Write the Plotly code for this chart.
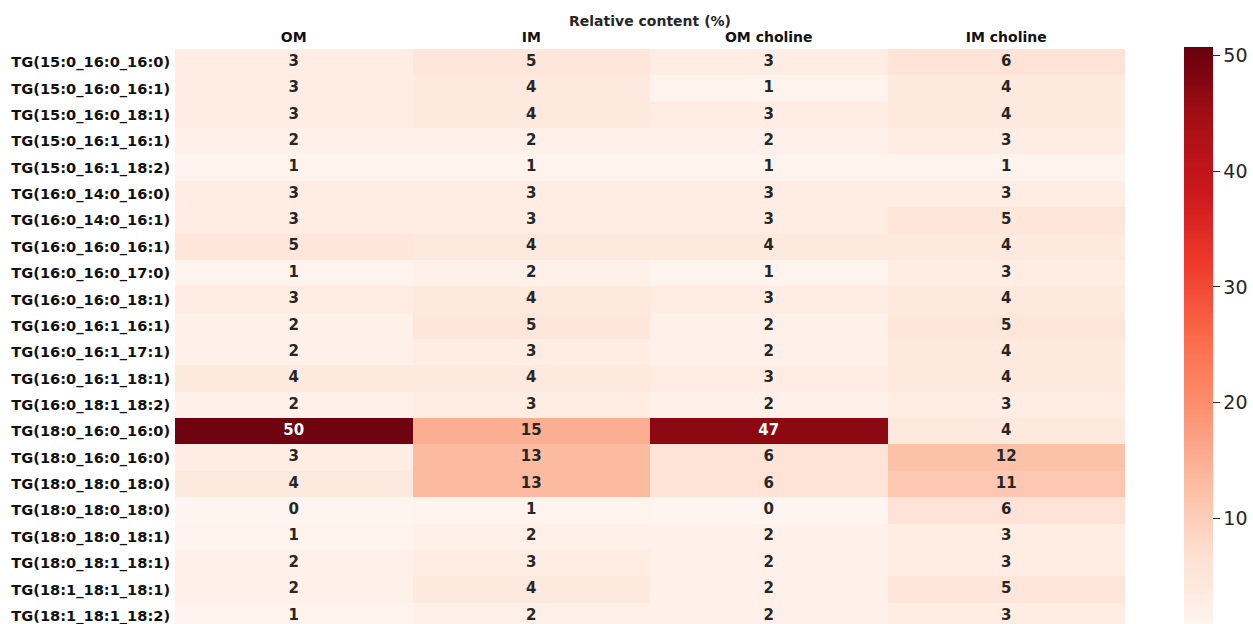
import plotly.graph_objects as go

# Triglyceride species (rows) and sample groups (columns)
species = [
    "TG(15:0_16:0_16:0)", "TG(15:0_16:0_16:1)", "TG(15:0_16:0_18:1)", "TG(15:0_16:1_16:1)",
    "TG(15:0_16:1_18:2)", "TG(16:0_14:0_16:0)", "TG(16:0_14:0_16:1)", "TG(16:0_16:0_16:1)",
    "TG(16:0_16:0_17:0)", "TG(16:0_16:0_18:1)", "TG(16:0_16:1_16:1)", "TG(16:0_16:1_17:1)",
    "TG(16:0_16:1_18:1)", "TG(16:0_18:1_18:2)", "TG(18:0_16:0_16:0)", "TG(18:0_16:0_16:0)",
    "TG(18:0_18:0_18:0)", "TG(18:0_18:0_18:0)", "TG(18:0_18:0_18:1)", "TG(18:0_18:1_18:1)",
    "TG(18:1_18:1_18:1)", "TG(18:1_18:1_18:2)",
]
groups = ["OM", "IM", "OM choline", "IM choline"]

# Relative content (%) per group
om = [3, 3, 3, 2, 1, 3, 3, 5, 1, 3, 2, 2, 4, 2, 50, 3, 4, 0, 1, 2, 2, 1]
im = [5, 4, 4, 2, 1, 3, 3, 4, 2, 4, 5, 3, 4, 3, 15, 13, 13, 1, 2, 3, 4, 2]
om_choline = [3, 1, 3, 2, 1, 3, 3, 4, 1, 3, 2, 2, 3, 2, 47, 6, 6, 0, 2, 2, 2, 2]
im_choline = [6, 4, 4, 3, 1, 3, 5, 4, 3, 4, 5, 4, 4, 3, 4, 12, 11, 6, 3, 3, 5, 3]

colorbar_ticks = [10, 20, 30, 40, 50]

columns = [om, im, om_choline, im_choline]
n_rows = len(species)
z = [[col[i] for col in columns] for i in range(n_rows)]
row_pos = list(range(n_rows))
col_pos = list(range(len(groups)))

reds = ['rgb(255,245,240)', 'rgb(254,224,210)', 'rgb(252,187,161)', 'rgb(252,146,114)',
        'rgb(251,106,74)', 'rgb(239,59,44)', 'rgb(203,24,29)', 'rgb(165,15,21)', 'rgb(103,0,13)']
scale = [[i / (len(reds) - 1), c] for i, c in enumerate(reds)]
zmin, zmax = 0.5, 50.7

fig = go.Figure()
fig.add_trace(go.Heatmap(
    z=z, x=col_pos, y=row_pos,
    colorscale=scale, zmin=zmin, zmax=zmax,
    hoverinfo="skip",
    colorbar=dict(
        thickness=29, thicknessmode="pixels",
        len=581, lenmode="pixels",
        x=1.062, xanchor="left", xpad=0,
        y=1.003, yanchor="top", ypad=0,
        outlinewidth=0,
        tickvals=colorbar_ticks,
        ticks="outside", ticklen=7, tickwidth=1.3, tickcolor="#262626",
        tickfont=dict(family="DejaVu Sans", size=19, color="#262626"),
    ),
))

# cell value labels, white on dark cells
tx, ty, tt, tc = [], [], [], []
for i in range(n_rows):
    for j in range(len(groups)):
        v = z[i][j]
        tx.append(j)
        ty.append(i)
        tt.append(str(v))
        tc.append("white" if (v - zmin) / (zmax - zmin) > 0.6 else "#262626")
fig.add_trace(go.Scatter(
    x=tx, y=ty, text=tt, mode="text",
    textfont=dict(family="DejaVu Sans", size=15, color=tc, weight="bold"),
    hoverinfo="skip", showlegend=False, cliponaxis=False,
))

fig.update_layout(
    width=1253, height=624,
    margin=dict(l=175, r=128, t=49, b=0),
    paper_bgcolor="white", plot_bgcolor="white",
    showlegend=False,
    title=dict(
        text="Relative content (%)", x=0.5, xref="paper", xanchor="center",
        y=1 - 21 / 624, yanchor="middle",
        font=dict(family="DejaVu Sans", size=14, color="#262626", weight="bold"),
    ),
    xaxis=dict(
        side="top", tickvals=col_pos, ticktext=groups,
        range=[-0.5, len(groups) - 0.5],
        showgrid=False, zeroline=False, showline=False,
        ticks="outside", ticklen=0, ticklabelstandoff=0,
        tickfont=dict(family="DejaVu Sans", size=14, color="#111111", weight="bold"),
    ),
    yaxis=dict(
        tickvals=row_pos, ticktext=species,
        range=[21.31, -0.5],
        showgrid=False, zeroline=False, showline=False,
        ticks="outside", ticklen=0, ticklabelstandoff=1,
        ticklabeloverflow="allow",
        tickfont=dict(family="DejaVu Sans", size=14.6, color="#111111", weight="bold"),
    ),
)

fig.write_html("out.html")
